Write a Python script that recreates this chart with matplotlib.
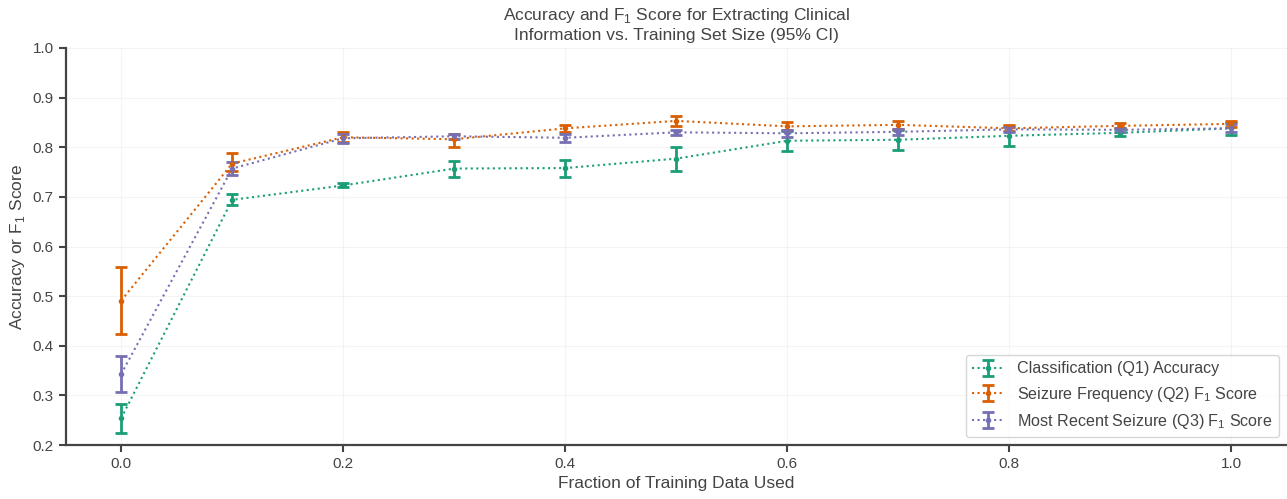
import matplotlib
matplotlib.use("Agg")
import matplotlib.pyplot as plt
import numpy as np
import seaborn as sns

fractions = [0.0, 0.1, 0.2, 0.3, 0.4, 0.5, 0.6, 0.7, 0.8, 0.9, 1.0]

# Classification (Q1) accuracy: mean, lower, upper
q1_mean = [0.254, 0.694, 0.723, 0.757, 0.758, 0.777, 0.813, 0.815, 0.823, 0.829, 0.838]
q1_low = [0.225, 0.684, 0.719, 0.740, 0.740, 0.753, 0.792, 0.795, 0.803, 0.822, 0.824]
q1_high = [0.283, 0.705, 0.727, 0.773, 0.775, 0.801, 0.833, 0.834, 0.842, 0.836, 0.851]

# Seizure frequency (Q2) F1
q2_mean = [0.491, 0.767, 0.820, 0.816, 0.838, 0.853, 0.842, 0.845, 0.838, 0.843, 0.847]
q2_low = [0.424, 0.752, 0.810, 0.801, 0.831, 0.843, 0.834, 0.837, 0.832, 0.838, 0.841]
q2_high = [0.559, 0.788, 0.831, 0.827, 0.845, 0.862, 0.850, 0.852, 0.844, 0.848, 0.853]

# Most recent seizure (Q3) F1
q3_mean = [0.343, 0.757, 0.818, 0.822, 0.819, 0.830, 0.828, 0.831, 0.836, 0.835, 0.838]
q3_low = [0.307, 0.745, 0.809, 0.817, 0.811, 0.825, 0.821, 0.825, 0.831, 0.831, 0.830]
q3_high = [0.379, 0.770, 0.826, 0.827, 0.827, 0.835, 0.835, 0.837, 0.841, 0.839, 0.846]

labels = ["Classification (Q1) Accuracy",
          "Seizure Frequency (Q2) F$_1$ Score",
          "Most Recent Seizure (Q3) F$_1$ Score"]

sns.set_style("ticks")
plt.rcParams['font.family'] = ['Liberation Sans', 'DejaVu Sans']
plt.rcParams['mathtext.fontset'] = 'custom'
plt.rcParams['mathtext.rm'] = 'Liberation Sans'

colors = sns.color_palette("Dark2", 3)
txt = '#444444'

fig, ax = plt.subplots(figsize=(12.87, 4.99), dpi=100)

series = [(q1_mean, q1_low, q1_high), (q2_mean, q2_low, q2_high), (q3_mean, q3_low, q3_high)]
for (m, lo, hi), c, lab in zip(series, colors, labels):
    m = np.array(m)
    yerr = np.vstack([m - np.array(lo), np.array(hi) - m])
    ax.errorbar(fractions, m, yerr=yerr, fmt='o', ls=':', color=c, markersize=3,
                linewidth=1.5, elinewidth=2, capsize=4, capthick=2, label=lab)

ax.set_xlim(-0.05, 1.05)
ax.set_ylim(0.2, 1.0)
ax.set_yticks(np.arange(0.2, 1.01, 0.1))
ax.grid(True, alpha=0.2)
ax.set_xlabel("Fraction of Training Data Used", fontsize=12.5, color=txt)
ax.set_ylabel("Accuracy or F$_1$ Score", fontsize=12.5, color=txt)
ax.set_title("Accuracy and F$_1$ Score for Extracting Clinical\nInformation vs. Training Set Size (95% CI)",
             fontsize=12.5, color=txt)
ax.tick_params(labelsize=11, colors=txt, width=1.5, length=5)
for s in ax.spines.values():
    s.set_color(txt)
    s.set_linewidth(1.6)
sns.despine(ax=ax)
leg = ax.legend(loc='lower right', fontsize=11.6)
for t in leg.get_texts():
    t.set_color(txt)

plt.subplots_adjust(left=0.051, right=1.0, top=0.904, bottom=0.108)
plt.savefig("out.png", dpi=100)
